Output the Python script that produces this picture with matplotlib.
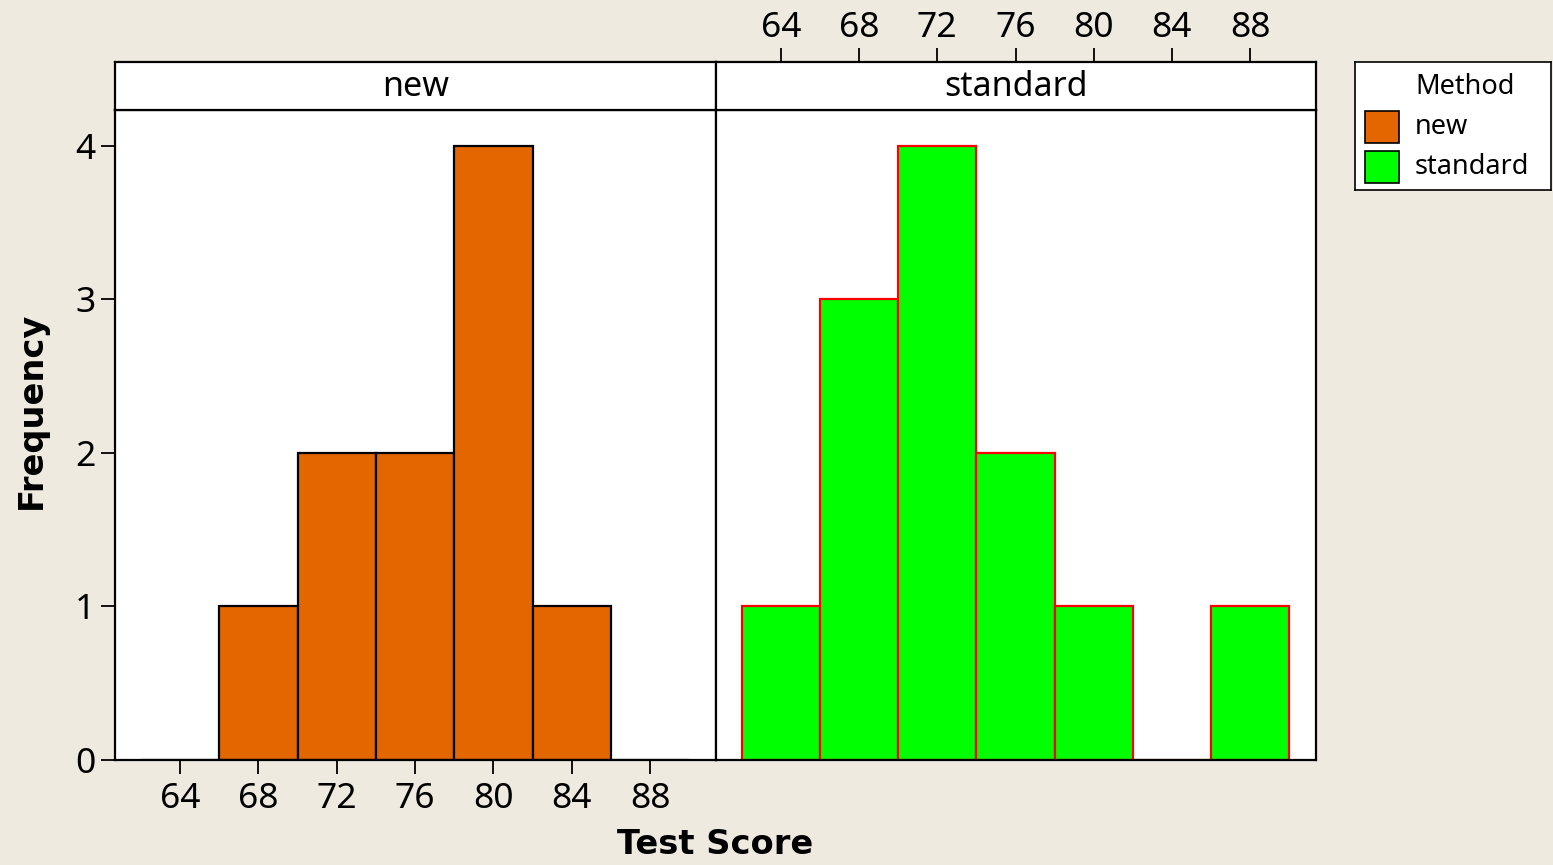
import matplotlib
matplotlib.use("Agg")
import matplotlib.pyplot as plt
from matplotlib.patches import Rectangle

# ---- data ----
bin_centers = [64, 68, 72, 76, 80, 84, 88]
new_counts = [0, 1, 2, 2, 4, 1, 0]
standard_counts = [1, 3, 4, 2, 1, 0, 1]
panel_names = ["new", "standard"]
x_ticks = [64, 68, 72, 76, 80, 84, 88]
y_ticks = [0, 1, 2, 3, 4]
bin_width = 4
x_label = "Test Score"
y_label = "Frequency"
legend_title = "Method"

BG = "#EEEAE0"
ORANGE = "#E36600"
GREEN = "#00FF00"
FONT = "Noto Sans"
TICK_FS = 25.5

W, H = 1553, 865
fig = plt.figure(figsize=(W / 100, H / 100), dpi=100, facecolor=BG)


def fx(px):
    return px / W


def fy(py):
    return 1 - py / H


xlim = (60.68, 91.37)
ylim = (0, 4.234)

panels = [
    (115, 716, new_counts, ORANGE, "black", "bottom"),
    (716, 1316, standard_counts, GREEN, "#FF0000", "top"),
]
plot_top, plot_bot, strip_top = 110, 760, 62

for name, (x0, x1, counts, fc, ec, tickpos) in zip(panel_names, panels):
    ax = fig.add_axes([fx(x0), fy(plot_bot), (x1 - x0) / W, (plot_bot - plot_top) / H])
    ax.set_facecolor("white")
    ax.bar(bin_centers, counts, width=bin_width, color=fc, edgecolor=ec,
           linewidth=1.6, zorder=3)
    ax.set_xlim(*xlim)
    ax.set_ylim(*ylim)
    for s in ax.spines.values():
        s.set_linewidth(1.6)
        s.set_color("black")
        s.set_zorder(4)

    # strip
    sax = fig.add_axes([fx(x0), fy(plot_top), (x1 - x0) / W, (plot_top - strip_top) / H])
    sax.set_facecolor("white")
    sax.set_xlim(*xlim)
    sax.set_yticks([])
    for s in sax.spines.values():
        s.set_linewidth(1.6)
    sax.text(0.5, 0.47, name, ha="center", va="center", fontsize=24.5,
             family=FONT, transform=sax.transAxes)

    if tickpos == "bottom":
        ax.set_xticks(x_ticks)
        ax.xaxis.set_ticks_position("bottom")
        ax.tick_params(axis="x", direction="out", length=10, width=1.3,
                       labelsize=TICK_FS, pad=6)
        ax.set_yticks(y_ticks)
        ax.tick_params(axis="y", direction="out", length=10, width=1.3,
                       labelsize=TICK_FS, pad=4)
        sax.set_xticks([])
        tick_ax = ax
    else:
        ax.set_xticks([])
        ax.set_yticks([])
        sax.set_xticks(x_ticks)
        sax.xaxis.set_ticks_position("top")
        sax.tick_params(axis="x", direction="out", length=10, width=1.3,
                        labelsize=TICK_FS, pad=2, top=True, labeltop=True,
                        bottom=False, labelbottom=False)
        tick_ax = sax
    for lab in tick_ax.get_xticklabels() + tick_ax.get_yticklabels():
        lab.set_fontfamily(FONT)

fig.text(fx(715), fy(845), x_label, ha="center", va="center", fontsize=24.2,
         fontweight="bold", family="DejaVu Sans")
fig.text(fx(31), fy(410), y_label, ha="center", va="center", fontsize=24.2,
         fontweight="bold", family="DejaVu Sans", rotation=90)

# legend
lax = fig.add_axes([fx(1355), fy(190), (1551 - 1355) / W, (190 - 62) / H])
lax.set_xlim(1355, 1551)
lax.set_ylim(190, 62)
lax.set_facecolor("white")
lax.set_xticks([])
lax.set_yticks([])
for s in lax.spines.values():
    s.set_linewidth(1.2)
lax.text(1415, 87, legend_title, ha="left", va="center", fontsize=19.5, family=FONT)
for i, (name, c) in enumerate(zip(panel_names, [ORANGE, GREEN])):
    yc = 127 + i * 40
    lax.add_patch(Rectangle((1365, yc - 16), 34, 32, facecolor=c,
                            edgecolor="black", linewidth=1.2))
    lax.text(1415, yc, name, ha="left", va="center", fontsize=19.5, family=FONT)

fig.savefig("out.png", dpi=100, facecolor=BG)
